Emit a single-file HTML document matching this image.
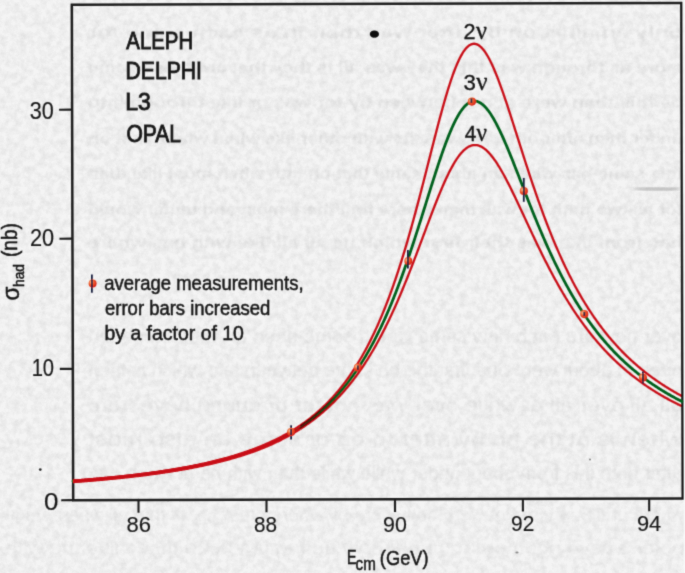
<!DOCTYPE html>
<html><head><meta charset="utf-8">
<style>
html,body{margin:0;padding:0;}
body{width:685px;height:573px;overflow:hidden;background:#eeeeee;}
svg{display:block;}
text{font-family:"Liberation Sans",sans-serif;fill:#161616;}
.tx text{stroke:#161616;stroke-width:0.9px;}
.tx text.lt{stroke-width:0.15px;}
.tx text.md{stroke-width:0.5px;}
.tx text.nu{stroke-width:0.35px;}
</style></head>
<body>
<svg width="685" height="573" viewBox="0 0 685 573">
<defs>
<radialGradient id="dot" cx="0.35" cy="0.35" r="0.7">
<stop offset="0" stop-color="#f6c49a"/>
<stop offset="0.45" stop-color="#ee5a2a"/>
<stop offset="1" stop-color="#d81c16"/>
</radialGradient>
<filter id="paper" x="0" y="0" width="100%" height="100%">
<feTurbulence type="fractalNoise" baseFrequency="0.15" numOctaves="4" seed="3"/>
<feColorMatrix type="matrix" values="0 0 0 0 0.5  0 0 0 0 0.5  0 0 0 0 0.5  0 0 0 -1.1 0.75"/>
</filter>
<linearGradient id="ug" gradientUnits="userSpaceOnUse" x1="265" y1="0" x2="336" y2="0">
<stop offset="0" stop-color="#cc1018" stop-opacity="1"/>
<stop offset="1" stop-color="#cc1018" stop-opacity="0"/>
</linearGradient>
<filter id="soft" x="-5%" y="-5%" width="110%" height="110%"><feGaussianBlur stdDeviation="1.0"/></filter>
<filter id="scan" x="0" y="0" width="685" height="573" filterUnits="userSpaceOnUse"><feConvolveMatrix order="3" kernelMatrix="0.0192 0.1001 0.0192 0.1001 0.5228 0.1001 0.0192 0.1001 0.0192" edgeMode="none"/></filter>
</defs>
<rect x="0" y="0" width="685" height="573" fill="#f4f4f4"/>
<rect x="0" y="0" width="685" height="573" filter="url(#paper)" opacity="0.45"/>
<g fill="#202020" filter="url(#soft)">
<g opacity="0.045" font-family="Liberation Sans" font-weight="bold" font-size="16" transform="scale(-1 1)">
<text x="-683" y="37.5" textLength="595" lengthAdjust="spacingAndGlyphs">only an all is on by after was their in as each same for</text>
<text x="-683" y="72.8" textLength="595" lengthAdjust="spacingAndGlyphs">more as through was this they was all is they that are these same</text>
<text x="-683" y="108.2" textLength="595" lengthAdjust="spacingAndGlyphs">be this than were at not between by for was or like through into</text>
<text x="-683" y="143.5" textLength="595" lengthAdjust="spacingAndGlyphs">under then after other its were its with other like when where first on</text>
<text x="-683" y="179.0" textLength="595" lengthAdjust="spacingAndGlyphs">this same has when an about same that on into when most like then</text>
<text x="-683" y="214.5" textLength="595" lengthAdjust="spacingAndGlyphs">for as two both for was than where first there most and under would</text>
<text x="-683" y="247.5" textLength="595" lengthAdjust="spacingAndGlyphs">has from like was their first which its all all like with has where</text>
</g>
<g opacity="0.045" font-family="Liberation Serif" font-size="20" transform="scale(-1 1)">
<text x="-683" y="343" textLength="595" lengthAdjust="spacingAndGlyphs">over new are each new same would some been an with it an been</text>
<text x="-683" y="377" textLength="595" lengthAdjust="spacingAndGlyphs">been of about were one first the be same between into which is then</text>
<text x="-683" y="412" textLength="595" lengthAdjust="spacingAndGlyphs">all all over all at while over was not for or during have from</text>
<text x="-683" y="446" textLength="595" lengthAdjust="spacingAndGlyphs">when is at the an by after to on or some an also most</text>
<text x="-683" y="480" textLength="595" lengthAdjust="spacingAndGlyphs">after both this from about under while while than with be at when one</text>
</g>
<g opacity="0.03" font-family="Liberation Serif" font-size="19" transform="scale(-1 1)">
<text x="-685" y="521" textLength="680" lengthAdjust="spacingAndGlyphs">where under where not were both were by where other be as that all where have</text>
<text x="-685" y="554" textLength="680" lengthAdjust="spacingAndGlyphs">of for was in not more to under only during but been these like the with</text>
</g>
</g>
<g filter="url(#scan)">
<rect x="683.6" y="0" width="1.4" height="573" fill="#f8f8f8"/>
<ellipse cx="657" cy="189" rx="24" ry="1.6" fill="#777" opacity="0.45" filter="url(#soft)"/>
<!-- frame & ticks, slightly rotated like the scan -->
<g transform="rotate(-0.16 377 251)" stroke="#1c1c1c" fill="none">
<rect x="72.5" y="3.8" width="609.5" height="495.5" stroke-width="2.5"/>
<g stroke-width="2.1">
<line x1="59.5" y1="108.8" x2="72.5" y2="108.8"/>
<line x1="59.5" y1="237.8" x2="72.5" y2="237.8"/>
<line x1="59.5" y1="368.0" x2="72.5" y2="368.0"/>
<line x1="60.5" y1="499.3" x2="72.5" y2="499.3"/>
<line x1="137.8" y1="499.3" x2="137.8" y2="512"/>
<line x1="265.8" y1="499.3" x2="265.8" y2="512"/>
<line x1="394.3" y1="499.3" x2="394.3" y2="512"/>
<line x1="522.2" y1="499.3" x2="522.2" y2="512"/>
<line x1="648.5" y1="499.3" x2="648.5" y2="512"/>
</g>
</g>
<!-- curves -->
<g fill="none" stroke-linejoin="round" stroke-linecap="round">
<path d="M73.0,481.20 L74.0,481.13 L75.0,481.05 L76.0,480.98 L77.0,480.90 L78.0,480.82 L79.0,480.75 L80.0,480.67 L81.0,480.59 L82.0,480.51 L83.0,480.43 L84.0,480.35 L85.0,480.27 L86.0,480.19 L87.0,480.11 L88.0,480.03 L89.0,479.95 L90.0,479.86 L91.0,479.78 L92.0,479.70 L93.0,479.61 L94.0,479.53 L95.0,479.44 L96.0,479.35 L97.0,479.27 L98.0,479.18 L99.0,479.09 L100.0,479.00 L101.0,478.91 L102.0,478.82 L103.0,478.73 L104.0,478.63 L105.0,478.54 L106.0,478.45 L107.0,478.35 L108.0,478.26 L109.0,478.16 L110.0,478.07 L111.0,477.97 L112.0,477.87 L113.0,477.77 L114.0,477.67 L115.0,477.57 L116.0,477.47 L117.0,477.37 L118.0,477.27 L119.0,477.17 L120.0,477.06 L121.0,476.96 L122.0,476.85 L123.0,476.74 L124.0,476.64 L125.0,476.53 L126.0,476.42 L127.0,476.31 L128.0,476.20 L129.0,476.09 L130.0,475.97 L131.0,475.86 L132.0,475.75 L133.0,475.63 L134.0,475.51 L135.0,475.40 L136.0,475.28 L137.0,475.16 L138.0,475.04 L139.0,474.92 L140.0,474.80 L141.0,474.67 L142.0,474.55 L143.0,474.42 L144.0,474.30 L145.0,474.17 L146.0,474.04 L147.0,473.91 L148.0,473.78 L149.0,473.65 L150.0,473.52 L151.0,473.39 L152.0,473.25 L153.0,473.11 L154.0,472.98 L155.0,472.84 L156.0,472.70 L157.0,472.56 L158.0,472.42 L159.0,472.27 L160.0,472.13 L161.0,471.98 L162.0,471.84 L163.0,471.69 L164.0,471.54 L165.0,471.39 L166.0,471.24 L167.0,471.08 L168.0,470.93 L169.0,470.77 L170.0,470.61 L171.0,470.45 L172.0,470.29 L173.0,470.13 L174.0,469.97 L175.0,469.80 L176.0,469.64 L177.0,469.47 L178.0,469.30 L179.0,469.13 L180.0,468.96 L181.0,468.78 L182.0,468.61 L183.0,468.43 L184.0,468.25 L185.0,468.07 L186.0,467.89 L187.0,467.70 L188.0,467.52 L189.0,467.33 L190.0,467.14 L191.0,466.95 L192.0,466.76 L193.0,466.56 L194.0,466.36 L195.0,466.17 L196.0,465.97 L197.0,465.76 L198.0,465.56 L199.0,465.35 L200.0,465.14 L201.0,464.93 L202.0,464.72 L203.0,464.51 L204.0,464.29 L205.0,464.07 L206.0,463.85 L207.0,463.63 L208.0,463.40 L209.0,463.17 L210.0,462.94 L211.0,462.71 L212.0,462.48 L213.0,462.24 L214.0,462.00 L215.0,461.76 L216.0,461.51 L217.0,461.27 L218.0,461.02 L219.0,460.77 L220.0,460.51 L221.0,460.25 L222.0,459.99 L223.0,459.73 L224.0,459.47 L225.0,459.20 L226.0,458.93 L227.0,458.65 L228.0,458.38 L229.0,458.10 L230.0,457.81 L231.0,457.53 L232.0,457.24 L233.0,456.95 L234.0,456.65 L235.0,456.35 L236.0,456.05 L237.0,455.75 L238.0,455.44 L239.0,455.13 L240.0,454.81 L241.0,454.49 L242.0,454.17 L243.0,453.85 L244.0,453.52 L245.0,453.18 L246.0,452.85 L247.0,452.51 L248.0,452.16 L249.0,451.82 L250.0,451.46 L251.0,451.11 L252.0,450.75 L253.0,450.38 L254.0,450.01 L255.0,449.64 L256.0,449.26 L257.0,448.88 L258.0,448.49 L259.0,448.10 L260.0,447.71 L261.0,447.31 L262.0,446.90 L263.0,446.49 L264.0,446.08 L265.0,445.66 L266.0,445.24 L267.0,444.81 L268.0,444.37 L269.0,443.93 L270.0,443.49 L271.0,443.04 L272.0,442.58 L273.0,442.12 L274.0,441.65 L275.0,441.18 L276.0,440.70 L277.0,440.21 L278.0,439.72 L279.0,439.22 L280.0,438.72 L281.0,438.21 L282.0,437.69 L283.0,437.17 L284.0,436.64 L285.0,436.10 L286.0,435.56 L287.0,435.01 L288.0,434.45 L289.0,433.89 L290.0,433.32 L291.0,432.74 L292.0,432.15 L293.0,431.56 L294.0,430.95 L295.0,430.34 L296.0,429.73 L297.0,429.10 L298.0,428.46 L299.0,427.82 L300.0,427.17 L301.0,426.51 L302.0,425.84 L303.0,425.16 L304.0,424.47 L305.0,423.77 L306.0,423.07 L307.0,422.35 L308.0,421.63 L309.0,420.89 L310.0,420.14 L311.0,419.39 L312.0,418.62 L313.0,417.84 L314.0,417.05 L315.0,416.25 L316.0,415.44 L317.0,414.62 L318.0,413.79 L319.0,412.94 L320.0,412.08 L321.0,411.21 L322.0,410.33 L323.0,409.44 L324.0,408.53 L325.0,407.61 L326.0,406.68 L327.0,405.73 L328.0,404.77 L329.0,403.79 L330.0,402.80 L331.0,401.80 L332.0,400.78 L333.0,399.75 L334.0,398.70 L335.0,397.64 L336.0,396.56 L337.0,395.46 L338.0,394.35 L339.0,393.22 L340.0,392.08 L341.0,390.92 L342.0,389.74 L343.0,388.54 L344.0,387.33 L345.0,386.10 L346.0,384.85 L347.0,383.58 L348.0,382.29 L349.0,380.98 L350.0,379.66 L351.0,378.31 L352.0,376.94 L353.0,375.56 L354.0,374.15 L355.0,372.72 L356.0,371.27 L357.0,369.79 L358.0,368.30 L359.0,366.78 L360.0,365.24 L361.0,363.68 L362.0,362.09 L363.0,360.48 L364.0,358.84 L365.0,357.18 L366.0,355.50 L367.0,353.79 L368.0,352.05 L369.0,350.29 L370.0,348.50 L371.0,346.69 L372.0,344.85 L373.0,342.98 L374.0,341.09 L375.0,339.16 L376.0,337.21 L377.0,335.23 L378.0,333.23 L379.0,331.19 L380.0,329.12 L381.0,327.03 L382.0,324.90 L383.0,322.75 L384.0,320.57 L385.0,318.35 L386.0,316.10 L387.0,313.83 L388.0,311.52 L389.0,309.18 L390.0,306.82 L391.0,304.42 L392.0,301.98 L393.0,299.52 L394.0,297.03 L395.0,294.50 L396.0,291.95 L397.0,289.36 L398.0,286.75 L399.0,284.10 L400.0,281.42 L401.0,278.71 L402.0,275.97 L403.0,273.20 L404.0,270.41 L405.0,267.58 L406.0,264.73 L407.0,261.85 L408.0,258.94 L409.0,256.00 L410.0,253.04 L411.0,250.06 L412.0,247.05 L413.0,244.02 L414.0,240.97 L415.0,237.89 L416.0,234.80 L417.0,231.69 L418.0,228.56 L419.0,225.42 L420.0,222.27 L421.0,219.10 L422.0,215.92 L423.0,212.73 L424.0,209.54 L425.0,206.34 L426.0,203.14 L427.0,199.94 L428.0,196.74 L429.0,193.54 L430.0,190.36 L431.0,187.18 L432.0,184.01 L433.0,180.86 L434.0,177.72 L435.0,174.61 L436.0,171.52 L437.0,168.45 L438.0,165.42 L439.0,162.41 L440.0,159.45 L441.0,156.52 L442.0,153.63 L443.0,150.79 L444.0,148.00 L445.0,145.25 L446.0,142.57 L447.0,139.94 L448.0,137.37 L449.0,134.87 L450.0,132.44 L451.0,130.08 L452.0,127.79 L453.0,125.58 L454.0,123.45 L455.0,121.41 L456.0,119.45 L457.0,117.57 L458.0,115.79 L459.0,114.11 L460.0,112.52 L461.0,111.02 L462.0,109.63 L463.0,108.34 L464.0,107.15 L465.0,106.06 L466.0,105.08 L467.0,104.21 L468.0,103.45 L469.0,102.79 L470.0,102.24 L471.0,101.80 L472.0,101.47 L473.0,101.25 L474.0,101.14 L475.0,101.13 L476.0,101.23 L477.0,101.44 L478.0,101.75 L479.0,102.17 L480.0,102.69 L481.0,103.30 L482.0,104.02 L483.0,104.84 L484.0,105.75 L485.0,106.75 L486.0,107.84 L487.0,109.02 L488.0,110.29 L489.0,111.64 L490.0,113.06 L491.0,114.57 L492.0,116.15 L493.0,117.81 L494.0,119.53 L495.0,121.32 L496.0,123.17 L497.0,125.08 L498.0,127.06 L499.0,129.08 L500.0,131.16 L501.0,133.28 L502.0,135.45 L503.0,137.67 L504.0,139.92 L505.0,142.22 L506.0,144.54 L507.0,146.90 L508.0,149.29 L509.0,151.71 L510.0,154.15 L511.0,156.61 L512.0,159.09 L513.0,161.59 L514.0,164.11 L515.0,166.64 L516.0,169.18 L517.0,171.73 L518.0,174.29 L519.0,176.85 L520.0,179.42 L521.0,181.98 L522.0,184.55 L523.0,187.12 L524.0,189.69 L525.0,192.25 L526.0,194.81 L527.0,197.36 L528.0,199.90 L529.0,202.43 L530.0,204.96 L531.0,207.47 L532.0,209.97 L533.0,212.46 L534.0,214.93 L535.0,217.40 L536.0,219.84 L537.0,222.27 L538.0,224.69 L539.0,227.08 L540.0,229.46 L541.0,231.83 L542.0,234.17 L543.0,236.49 L544.0,238.80 L545.0,241.09 L546.0,243.35 L547.0,245.60 L548.0,247.83 L549.0,250.03 L550.0,252.22 L551.0,254.38 L552.0,256.52 L553.0,258.65 L554.0,260.75 L555.0,262.83 L556.0,264.88 L557.0,266.92 L558.0,268.94 L559.0,270.93 L560.0,272.91 L561.0,274.86 L562.0,276.79 L563.0,278.70 L564.0,280.59 L565.0,282.45 L566.0,284.30 L567.0,286.13 L568.0,287.93 L569.0,289.72 L570.0,291.48 L571.0,293.23 L572.0,294.95 L573.0,296.65 L574.0,298.34 L575.0,300.00 L576.0,301.65 L577.0,303.28 L578.0,304.88 L579.0,306.47 L580.0,308.04 L581.0,309.59 L582.0,311.13 L583.0,312.64 L584.0,314.14 L585.0,315.62 L586.0,317.08 L587.0,318.52 L588.0,319.95 L589.0,321.36 L590.0,322.75 L591.0,324.13 L592.0,325.49 L593.0,326.83 L594.0,328.16 L595.0,329.47 L596.0,330.77 L597.0,332.05 L598.0,333.32 L599.0,334.57 L600.0,335.81 L601.0,337.03 L602.0,338.24 L603.0,339.43 L604.0,340.61 L605.0,341.77 L606.0,342.92 L607.0,344.06 L608.0,345.19 L609.0,346.30 L610.0,347.40 L611.0,348.48 L612.0,349.56 L613.0,350.62 L614.0,351.66 L615.0,352.70 L616.0,353.73 L617.0,354.74 L618.0,355.74 L619.0,356.73 L620.0,357.71 L621.0,358.67 L622.0,359.63 L623.0,360.57 L624.0,361.51 L625.0,362.43 L626.0,363.34 L627.0,364.25 L628.0,365.14 L629.0,366.02 L630.0,366.90 L631.0,367.76 L632.0,368.61 L633.0,369.46 L634.0,370.29 L635.0,371.12 L636.0,371.93 L637.0,372.74 L638.0,373.54 L639.0,374.33 L640.0,375.11 L641.0,375.89 L642.0,376.65 L643.0,377.41 L644.0,378.15 L645.0,378.90 L646.0,379.63 L647.0,380.35 L648.0,381.07 L649.0,381.78 L650.0,382.48 L651.0,383.17 L652.0,383.86 L653.0,384.54 L654.0,385.21 L655.0,385.88 L656.0,386.54 L657.0,387.19 L658.0,387.84 L659.0,388.48 L660.0,389.11 L661.0,389.73 L662.0,390.35 L663.0,390.97 L664.0,391.57 L665.0,392.18 L666.0,392.77 L667.0,393.36 L668.0,393.94 L669.0,394.52 L670.0,395.09 L671.0,395.66 L672.0,396.22 L673.0,396.77 L674.0,397.32 L675.0,397.87 L676.0,398.40 L677.0,398.94 L678.0,399.47 L679.0,399.99 L680.0,400.51 L681.0,401.02 L682.0,401.53" stroke="#00601c" stroke-width="2.8"/>
<path d="M73.0,481.20 L74.0,481.13 L75.0,481.05 L76.0,480.98 L77.0,480.90 L78.0,480.82 L79.0,480.75 L80.0,480.67 L81.0,480.59 L82.0,480.51 L83.0,480.43 L84.0,480.35 L85.0,480.27 L86.0,480.19 L87.0,480.11 L88.0,480.03 L89.0,479.95 L90.0,479.86 L91.0,479.78 L92.0,479.70 L93.0,479.61 L94.0,479.53 L95.0,479.44 L96.0,479.35 L97.0,479.27 L98.0,479.18 L99.0,479.09 L100.0,479.00 L101.0,478.91 L102.0,478.82 L103.0,478.73 L104.0,478.63 L105.0,478.54 L106.0,478.45 L107.0,478.35 L108.0,478.26 L109.0,478.16 L110.0,478.07 L111.0,477.97 L112.0,477.87 L113.0,477.77 L114.0,477.67 L115.0,477.57 L116.0,477.47 L117.0,477.37 L118.0,477.27 L119.0,477.17 L120.0,477.06 L121.0,476.96 L122.0,476.85 L123.0,476.74 L124.0,476.64 L125.0,476.53 L126.0,476.42 L127.0,476.31 L128.0,476.20 L129.0,476.09 L130.0,475.97 L131.0,475.86 L132.0,475.75 L133.0,475.63 L134.0,475.51 L135.0,475.40 L136.0,475.28 L137.0,475.16 L138.0,475.04 L139.0,474.92 L140.0,474.80 L141.0,474.67 L142.0,474.55 L143.0,474.42 L144.0,474.30 L145.0,474.17 L146.0,474.04 L147.0,473.91 L148.0,473.78 L149.0,473.65 L150.0,473.52 L151.0,473.39 L152.0,473.25 L153.0,473.11 L154.0,472.98 L155.0,472.84 L156.0,472.70 L157.0,472.56 L158.0,472.42 L159.0,472.27 L160.0,472.13 L161.0,471.98 L162.0,471.84 L163.0,471.69 L164.0,471.54 L165.0,471.39 L166.0,471.24 L167.0,471.08 L168.0,470.93 L169.0,470.77 L170.0,470.61 L171.0,470.45 L172.0,470.29 L173.0,470.13 L174.0,469.97 L175.0,469.80 L176.0,469.64 L177.0,469.47 L178.0,469.30 L179.0,469.13 L180.0,468.96 L181.0,468.78 L182.0,468.61 L183.0,468.43 L184.0,468.25 L185.0,468.07 L186.0,467.89 L187.0,467.70 L188.0,467.52 L189.0,467.33 L190.0,467.14 L191.0,466.95 L192.0,466.76 L193.0,466.56 L194.0,466.36 L195.0,466.17 L196.0,465.97 L197.0,465.76 L198.0,465.56 L199.0,465.35 L200.0,465.14 L201.0,464.93 L202.0,464.72 L203.0,464.51 L204.0,464.29 L205.0,464.07 L206.0,463.85 L207.0,463.63 L208.0,463.40 L209.0,463.17 L210.0,462.94 L211.0,462.71 L212.0,462.48 L213.0,462.24 L214.0,462.00 L215.0,461.76 L216.0,461.51 L217.0,461.27 L218.0,461.02 L219.0,460.77 L220.0,460.51 L221.0,460.25 L222.0,459.99 L223.0,459.73 L224.0,459.47 L225.0,459.20 L226.0,458.93 L227.0,458.65 L228.0,458.38 L229.0,458.10 L230.0,457.81 L231.0,457.53 L232.0,457.24 L233.0,456.95 L234.0,456.65 L235.0,456.35 L236.0,456.05 L237.0,455.75 L238.0,455.44 L239.0,455.13 L240.0,454.81 L241.0,454.49 L242.0,454.17 L243.0,453.85 L244.0,453.52 L245.0,453.18 L246.0,452.85 L247.0,452.51 L248.0,452.16 L249.0,451.82 L250.0,451.46 L251.0,451.11 L252.0,450.75 L253.0,450.38 L254.0,450.01 L255.0,449.64 L256.0,449.26 L257.0,448.88 L258.0,448.49 L259.0,448.10 L260.0,447.71 L261.0,447.31 L262.0,446.90 L263.0,446.49 L264.0,446.08 L265.0,445.66 L266.0,445.24 L267.0,444.81 L268.0,444.37 L269.0,443.93 L270.0,443.49 L271.0,443.04 L272.0,442.58 L273.0,442.12 L274.0,441.65 L275.0,441.18 L276.0,440.70 L277.0,440.21 L278.0,439.72 L279.0,439.22 L280.0,438.72 L281.0,438.21 L282.0,437.69 L283.0,437.17 L284.0,436.64 L285.0,436.10 L286.0,435.56 L287.0,435.01 L288.0,434.45 L289.0,433.89 L290.0,433.32 L291.0,432.74 L292.0,432.15 L293.0,431.56 L294.0,430.95 L295.0,430.34 L296.0,429.73 L297.0,429.10 L298.0,428.46 L299.0,427.82 L300.0,427.17 L301.0,426.51 L302.0,425.84 L303.0,425.16 L304.0,424.47 L305.0,423.77 L306.0,423.07 L307.0,422.35 L308.0,421.63 L309.0,420.89 L310.0,420.14 L311.0,419.39 L312.0,418.62 L313.0,417.84 L314.0,417.05 L315.0,416.25 L316.0,415.44 L317.0,414.62 L318.0,413.79 L319.0,412.94 L320.0,412.08 L321.0,411.21 L322.0,410.33 L323.0,409.44 L324.0,408.53 L325.0,407.61 L326.0,406.68 L327.0,405.73 L328.0,404.77 L329.0,403.79 L330.0,402.80 L331.0,401.80 L332.0,400.78 L333.0,399.75 L334.0,398.70 L335.0,397.64 L336.0,396.56" stroke="url(#ug)" stroke-width="3.4" stroke-linecap="butt"/>
<path d="M73.0,482.09 L74.0,482.02 L75.0,481.95 L76.0,481.87 L77.0,481.80 L78.0,481.72 L79.0,481.64 L80.0,481.57 L81.0,481.49 L82.0,481.41 L83.0,481.33 L84.0,481.25 L85.0,481.17 L86.0,481.09 L87.0,481.01 L88.0,480.93 L89.0,480.85 L90.0,480.77 L91.0,480.68 L92.0,480.60 L93.0,480.52 L94.0,480.43 L95.0,480.35 L96.0,480.26 L97.0,480.17 L98.0,480.08 L99.0,480.00 L100.0,479.91 L101.0,479.82 L102.0,479.73 L103.0,479.64 L104.0,479.55 L105.0,479.45 L106.0,479.36 L107.0,479.27 L108.0,479.17 L109.0,479.08 L110.0,478.98 L111.0,478.89 L112.0,478.79 L113.0,478.69 L114.0,478.59 L115.0,478.49 L116.0,478.39 L117.0,478.29 L118.0,478.19 L119.0,478.09 L120.0,477.99 L121.0,477.88 L122.0,477.78 L123.0,477.67 L124.0,477.57 L125.0,477.46 L126.0,477.35 L127.0,477.24 L128.0,477.13 L129.0,477.02 L130.0,476.91 L131.0,476.80 L132.0,476.69 L133.0,476.57 L134.0,476.46 L135.0,476.34 L136.0,476.22 L137.0,476.11 L138.0,475.99 L139.0,475.87 L140.0,475.75 L141.0,475.62 L142.0,475.50 L143.0,475.38 L144.0,475.25 L145.0,475.13 L146.0,475.00 L147.0,474.87 L148.0,474.74 L149.0,474.61 L150.0,474.48 L151.0,474.35 L152.0,474.22 L153.0,474.08 L154.0,473.95 L155.0,473.81 L156.0,473.67 L157.0,473.53 L158.0,473.39 L159.0,473.25 L160.0,473.11 L161.0,472.97 L162.0,472.82 L163.0,472.67 L164.0,472.53 L165.0,472.38 L166.0,472.23 L167.0,472.08 L168.0,471.92 L169.0,471.77 L170.0,471.61 L171.0,471.46 L172.0,471.30 L173.0,471.14 L174.0,470.98 L175.0,470.82 L176.0,470.65 L177.0,470.49 L178.0,470.32 L179.0,470.15 L180.0,469.98 L181.0,469.81 L182.0,469.64 L183.0,469.46 L184.0,469.28 L185.0,469.11 L186.0,468.93 L187.0,468.75 L188.0,468.56 L189.0,468.38 L190.0,468.19 L191.0,468.00 L192.0,467.81 L193.0,467.62 L194.0,467.43 L195.0,467.23 L196.0,467.04 L197.0,466.84 L198.0,466.64 L199.0,466.43 L200.0,466.23 L201.0,466.02 L202.0,465.81 L203.0,465.60 L204.0,465.39 L205.0,465.18 L206.0,464.96 L207.0,464.74 L208.0,464.52 L209.0,464.29 L210.0,464.07 L211.0,463.84 L212.0,463.61 L213.0,463.38 L214.0,463.14 L215.0,462.91 L216.0,462.67 L217.0,462.42 L218.0,462.18 L219.0,461.93 L220.0,461.68 L221.0,461.43 L222.0,461.18 L223.0,460.92 L224.0,460.66 L225.0,460.40 L226.0,460.13 L227.0,459.86 L228.0,459.59 L229.0,459.32 L230.0,459.04 L231.0,458.76 L232.0,458.48 L233.0,458.20 L234.0,457.91 L235.0,457.62 L236.0,457.32 L237.0,457.02 L238.0,456.72 L239.0,456.42 L240.0,456.11 L241.0,455.80 L242.0,455.49 L243.0,455.17 L244.0,454.85 L245.0,454.52 L246.0,454.19 L247.0,453.86 L248.0,453.53 L249.0,453.19 L250.0,452.84 L251.0,452.50 L252.0,452.14 L253.0,451.79 L254.0,451.43 L255.0,451.06 L256.0,450.70 L257.0,450.32 L258.0,449.94 L259.0,449.56 L260.0,449.18 L261.0,448.78 L262.0,448.39 L263.0,447.99 L264.0,447.58 L265.0,447.17 L266.0,446.75 L267.0,446.33 L268.0,445.90 L269.0,445.47 L270.0,445.03 L271.0,444.59 L272.0,444.14 L273.0,443.69 L274.0,443.23 L275.0,442.77 L276.0,442.30 L277.0,441.82 L278.0,441.34 L279.0,440.85 L280.0,440.36 L281.0,439.86 L282.0,439.35 L283.0,438.84 L284.0,438.32 L285.0,437.79 L286.0,437.26 L287.0,436.72 L288.0,436.18 L289.0,435.62 L290.0,435.06 L291.0,434.50 L292.0,433.92 L293.0,433.34 L294.0,432.76 L295.0,432.16 L296.0,431.56 L297.0,430.95 L298.0,430.33 L299.0,429.70 L300.0,429.07" stroke="#c80c16" stroke-width="2.3" stroke-linecap="butt"/>
<path d="M300.0,429.07 L301.0,428.43 L302.0,427.78 L303.0,427.12 L304.0,426.45 L305.0,425.78 L306.0,425.09 L307.0,424.40 L308.0,423.70 L309.0,422.99 L310.0,422.27 L311.0,421.54 L312.0,420.80 L313.0,420.05 L314.0,419.29 L315.0,418.52 L316.0,417.74 L317.0,416.96 L318.0,416.16 L319.0,415.35 L320.0,414.53 L321.0,413.70 L322.0,412.85 L323.0,412.00 L324.0,411.14 L325.0,410.26 L326.0,409.37 L327.0,408.47 L328.0,407.56 L329.0,406.63 L330.0,405.70 L331.0,404.75 L332.0,403.79 L333.0,402.81 L334.0,401.82 L335.0,400.82 L336.0,399.80 L337.0,398.77 L338.0,397.73 L339.0,396.67 L340.0,395.60 L341.0,394.51 L342.0,393.41 L343.0,392.29 L344.0,391.15 L345.0,390.00 L346.0,388.83 L347.0,387.65 L348.0,386.45 L349.0,385.23 L350.0,384.00 L351.0,382.75 L352.0,381.48 L353.0,380.19 L354.0,378.88 L355.0,377.56 L356.0,376.22 L357.0,374.86 L358.0,373.48 L359.0,372.08 L360.0,370.66 L361.0,369.22 L362.0,367.76 L363.0,366.28 L364.0,364.77 L365.0,363.25 L366.0,361.71 L367.0,360.15 L368.0,358.56 L369.0,356.95 L370.0,355.32 L371.0,353.67 L372.0,352.00 L373.0,350.30 L374.0,348.58 L375.0,346.84 L376.0,345.07 L377.0,343.28 L378.0,341.47 L379.0,339.63 L380.0,337.77 L381.0,335.89 L382.0,333.98 L383.0,332.04 L384.0,330.09 L385.0,328.11 L386.0,326.10 L387.0,324.07 L388.0,322.01 L389.0,319.93 L390.0,317.83 L391.0,315.70 L392.0,313.55 L393.0,311.37 L394.0,309.17 L395.0,306.95 L396.0,304.70 L397.0,302.42 L398.0,300.13 L399.0,297.81 L400.0,295.47 L401.0,293.10 L402.0,290.71 L403.0,288.31 L404.0,285.88 L405.0,283.43 L406.0,280.96 L407.0,278.47 L408.0,275.96 L409.0,273.43 L410.0,270.89 L411.0,268.32 L412.0,265.75 L413.0,263.16 L414.0,260.55 L415.0,257.93 L416.0,255.30 L417.0,252.66 L418.0,250.01 L419.0,247.35 L420.0,244.69 L421.0,242.02 L422.0,239.34 L423.0,236.67 L424.0,233.99 L425.0,231.31 L426.0,228.64 L427.0,225.97 L428.0,223.31 L429.0,220.65 L430.0,218.01 L431.0,215.37 L432.0,212.76 L433.0,210.15 L434.0,207.57 L435.0,205.01 L436.0,202.46 L437.0,199.95 L438.0,197.46 L439.0,195.00 L440.0,192.58 L441.0,190.19 L442.0,187.84 L443.0,185.52 L444.0,183.25 L445.0,181.02 L446.0,178.84 L447.0,176.71 L448.0,174.63 L449.0,172.61 L450.0,170.64 L451.0,168.73 L452.0,166.88 L453.0,165.09 L454.0,163.37 L455.0,161.72 L456.0,160.14 L457.0,158.62 L458.0,157.18 L459.0,155.82 L460.0,154.53 L461.0,153.32 L462.0,152.18 L463.0,151.13 L464.0,150.16 L465.0,149.27 L466.0,148.46 L467.0,147.74 L468.0,147.11 L469.0,146.55 L470.0,146.09 L471.0,145.71 L472.0,145.41 L473.0,145.20 L474.0,145.08 L475.0,145.04 L476.0,145.08 L477.0,145.21 L478.0,145.42 L479.0,145.71 L480.0,146.09 L481.0,146.54 L482.0,147.08 L483.0,147.69 L484.0,148.38 L485.0,149.14 L486.0,149.97 L487.0,150.88 L488.0,151.86 L489.0,152.90 L490.0,154.01 L491.0,155.18 L492.0,156.42 L493.0,157.71 L494.0,159.07 L495.0,160.47 L496.0,161.94 L497.0,163.45 L498.0,165.01 L499.0,166.62 L500.0,168.28 L501.0,169.97 L502.0,171.71 L503.0,173.49 L504.0,175.30 L505.0,177.15 L506.0,179.03 L507.0,180.94 L508.0,182.88 L509.0,184.84 L510.0,186.83 L511.0,188.84 L512.0,190.87 L513.0,192.92 L514.0,194.99 L515.0,197.07 L516.0,199.16 L517.0,201.27 L518.0,203.39 L519.0,205.52 L520.0,207.65 L521.0,209.79 L522.0,211.94 L523.0,214.08 L524.0,216.23 L525.0,218.38 L526.0,220.54 L527.0,222.68 L528.0,224.83 L529.0,226.97 L530.0,229.11 L531.0,231.25 L532.0,233.37 L533.0,235.49 L534.0,237.61 L535.0,239.71 L536.0,241.81 L537.0,243.89 L538.0,245.97 L539.0,248.03 L540.0,250.08 L541.0,252.12 L542.0,254.15 L543.0,256.16 L544.0,258.16 L545.0,260.15 L546.0,262.12 L547.0,264.08 L548.0,266.02 L549.0,267.95 L550.0,269.86 L551.0,271.75 L552.0,273.63 L553.0,275.50 L554.0,277.35 L555.0,279.18 L556.0,281.00 L557.0,282.80 L558.0,284.58 L559.0,286.34 L560.0,288.09 L561.0,289.83 L562.0,291.54 L563.0,293.24 L564.0,294.92 L565.0,296.59 L566.0,298.24 L567.0,299.87 L568.0,301.49 L569.0,303.08 L570.0,304.67 L571.0,306.23 L572.0,307.78 L573.0,309.31 L574.0,310.83 L575.0,312.33 L576.0,313.82 L577.0,315.28 L578.0,316.74 L579.0,318.17 L580.0,319.59 L581.0,321.00 L582.0,322.39 L583.0,323.76 L584.0,325.12 L585.0,326.47 L586.0,327.80 L587.0,329.11 L588.0,330.41 L589.0,331.70 L590.0,332.97 L591.0,334.23 L592.0,335.47 L593.0,336.70 L594.0,337.92 L595.0,339.12 L596.0,340.31 L597.0,341.48 L598.0,342.65 L599.0,343.80 L600.0,344.93 L601.0,346.06 L602.0,347.17 L603.0,348.27 L604.0,349.35 L605.0,350.43 L606.0,351.49 L607.0,352.54 L608.0,353.58 L609.0,354.60 L610.0,355.62 L611.0,356.62 L612.0,357.62 L613.0,358.60 L614.0,359.57 L615.0,360.53 L616.0,361.48 L617.0,362.42 L618.0,363.35 L619.0,364.27 L620.0,365.18 L621.0,366.08 L622.0,366.96 L623.0,367.84 L624.0,368.71 L625.0,369.57 L626.0,370.42 L627.0,371.27 L628.0,372.10 L629.0,372.92 L630.0,373.74 L631.0,374.54 L632.0,375.34 L633.0,376.13 L634.0,376.91 L635.0,377.68 L636.0,378.44 L637.0,379.20 L638.0,379.95 L639.0,380.69 L640.0,381.42 L641.0,382.14 L642.0,382.86 L643.0,383.57 L644.0,384.27 L645.0,384.97 L646.0,385.65 L647.0,386.33 L648.0,387.01 L649.0,387.67 L650.0,388.33 L651.0,388.98 L652.0,389.63 L653.0,390.27 L654.0,390.90 L655.0,391.53 L656.0,392.15 L657.0,392.76 L658.0,393.37 L659.0,393.97 L660.0,394.57 L661.0,395.16 L662.0,395.74 L663.0,396.32 L664.0,396.89 L665.0,397.46 L666.0,398.02 L667.0,398.58 L668.0,399.13 L669.0,399.67 L670.0,400.21 L671.0,400.75 L672.0,401.28 L673.0,401.80 L674.0,402.32 L675.0,402.83 L676.0,403.34 L677.0,403.85 L678.0,404.35 L679.0,404.84 L680.0,405.33 L681.0,405.82 L682.0,406.30" stroke="#c80c16" stroke-width="2.3" stroke-linecap="butt" style="mix-blend-mode:multiply"/>
<path d="M73.0,480.65 L74.0,480.58 L75.0,480.50 L76.0,480.43 L77.0,480.35 L78.0,480.27 L79.0,480.20 L80.0,480.12 L81.0,480.04 L82.0,479.96 L83.0,479.88 L84.0,479.80 L85.0,479.72 L86.0,479.64 L87.0,479.56 L88.0,479.48 L89.0,479.39 L90.0,479.31 L91.0,479.22 L92.0,479.14 L93.0,479.05 L94.0,478.97 L95.0,478.88 L96.0,478.79 L97.0,478.71 L98.0,478.62 L99.0,478.53 L100.0,478.44 L101.0,478.35 L102.0,478.25 L103.0,478.16 L104.0,478.07 L105.0,477.98 L106.0,477.88 L107.0,477.79 L108.0,477.69 L109.0,477.59 L110.0,477.50 L111.0,477.40 L112.0,477.30 L113.0,477.20 L114.0,477.10 L115.0,477.00 L116.0,476.90 L117.0,476.80 L118.0,476.69 L119.0,476.59 L120.0,476.48 L121.0,476.38 L122.0,476.27 L123.0,476.16 L124.0,476.06 L125.0,475.95 L126.0,475.84 L127.0,475.73 L128.0,475.61 L129.0,475.50 L130.0,475.39 L131.0,475.27 L132.0,475.16 L133.0,475.04 L134.0,474.92 L135.0,474.81 L136.0,474.69 L137.0,474.57 L138.0,474.44 L139.0,474.32 L140.0,474.20 L141.0,474.07 L142.0,473.95 L143.0,473.82 L144.0,473.70 L145.0,473.57 L146.0,473.44 L147.0,473.31 L148.0,473.17 L149.0,473.04 L150.0,472.91 L151.0,472.77 L152.0,472.64 L153.0,472.50 L154.0,472.36 L155.0,472.22 L156.0,472.08 L157.0,471.94 L158.0,471.79 L159.0,471.65 L160.0,471.50 L161.0,471.35 L162.0,471.21 L163.0,471.06 L164.0,470.90 L165.0,470.75 L166.0,470.60 L167.0,470.44 L168.0,470.29 L169.0,470.13 L170.0,469.97 L171.0,469.81 L172.0,469.64 L173.0,469.48 L174.0,469.31 L175.0,469.15 L176.0,468.98 L177.0,468.81 L178.0,468.64 L179.0,468.46 L180.0,468.29 L181.0,468.11 L182.0,467.93 L183.0,467.75 L184.0,467.57 L185.0,467.39 L186.0,467.20 L187.0,467.02 L188.0,466.83 L189.0,466.64 L190.0,466.45 L191.0,466.25 L192.0,466.06 L193.0,465.86 L194.0,465.66 L195.0,465.46 L196.0,465.25 L197.0,465.05 L198.0,464.84 L199.0,464.63 L200.0,464.42 L201.0,464.20 L202.0,463.99 L203.0,463.77 L204.0,463.55 L205.0,463.33 L206.0,463.10 L207.0,462.88 L208.0,462.65 L209.0,462.41 L210.0,462.18 L211.0,461.94 L212.0,461.71 L213.0,461.46 L214.0,461.22 L215.0,460.97 L216.0,460.72 L217.0,460.47 L218.0,460.22 L219.0,459.96 L220.0,459.70 L221.0,459.44 L222.0,459.18 L223.0,458.91 L224.0,458.64 L225.0,458.36 L226.0,458.09 L227.0,457.81 L228.0,457.52 L229.0,457.24 L230.0,456.95 L231.0,456.66 L232.0,456.36 L233.0,456.06 L234.0,455.76 L235.0,455.46 L236.0,455.15 L237.0,454.84 L238.0,454.52 L239.0,454.20 L240.0,453.88 L241.0,453.56 L242.0,453.23 L243.0,452.89 L244.0,452.56 L245.0,452.21 L246.0,451.87 L247.0,451.52 L248.0,451.17 L249.0,450.81 L250.0,450.45 L251.0,450.08 L252.0,449.71 L253.0,449.34 L254.0,448.96 L255.0,448.58 L256.0,448.20 L257.0,447.81 L258.0,447.41 L259.0,447.01 L260.0,446.61 L261.0,446.20 L262.0,445.79 L263.0,445.37 L264.0,444.95 L265.0,444.52 L266.0,444.09 L267.0,443.65 L268.0,443.20 L269.0,442.76 L270.0,442.30 L271.0,441.84 L272.0,441.38 L273.0,440.91 L274.0,440.43 L275.0,439.95 L276.0,439.46 L277.0,438.97 L278.0,438.46 L279.0,437.96 L280.0,437.44 L281.0,436.92 L282.0,436.40 L283.0,435.86 L284.0,435.32 L285.0,434.77 L286.0,434.22 L287.0,433.66 L288.0,433.09 L289.0,432.51 L290.0,431.92 L291.0,431.33 L292.0,430.73 L293.0,430.12 L294.0,429.50 L295.0,428.88 L296.0,428.24 L297.0,427.60 L298.0,426.94 L299.0,426.28 L300.0,425.61" stroke="#c80c16" stroke-width="2.3" stroke-linecap="butt"/>
<path d="M300.0,425.61 L301.0,424.93 L302.0,424.24 L303.0,423.54 L304.0,422.83 L305.0,422.11 L306.0,421.38 L307.0,420.63 L308.0,419.88 L309.0,419.12 L310.0,418.34 L311.0,417.56 L312.0,416.76 L313.0,415.95 L314.0,415.13 L315.0,414.30 L316.0,413.45 L317.0,412.59 L318.0,411.72 L319.0,410.83 L320.0,409.94 L321.0,409.02 L322.0,408.10 L323.0,407.16 L324.0,406.20 L325.0,405.23 L326.0,404.25 L327.0,403.25 L328.0,402.24 L329.0,401.21 L330.0,400.16 L331.0,399.10 L332.0,398.02 L333.0,396.92 L334.0,395.81 L335.0,394.68 L336.0,393.53 L337.0,392.36 L338.0,391.18 L339.0,389.97 L340.0,388.75 L341.0,387.51 L342.0,386.24 L343.0,384.96 L344.0,383.66 L345.0,382.34 L346.0,380.99 L347.0,379.63 L348.0,378.24 L349.0,376.83 L350.0,375.40 L351.0,373.94 L352.0,372.47 L353.0,370.96 L354.0,369.44 L355.0,367.89 L356.0,366.31 L357.0,364.71 L358.0,363.08 L359.0,361.43 L360.0,359.75 L361.0,358.04 L362.0,356.31 L363.0,354.55 L364.0,352.76 L365.0,350.94 L366.0,349.09 L367.0,347.21 L368.0,345.30 L369.0,343.36 L370.0,341.38 L371.0,339.38 L372.0,337.34 L373.0,335.27 L374.0,333.17 L375.0,331.03 L376.0,328.86 L377.0,326.66 L378.0,324.42 L379.0,322.14 L380.0,319.83 L381.0,317.48 L382.0,315.09 L383.0,312.67 L384.0,310.21 L385.0,307.71 L386.0,305.17 L387.0,302.60 L388.0,299.98 L389.0,297.33 L390.0,294.63 L391.0,291.89 L392.0,289.12 L393.0,286.30 L394.0,283.44 L395.0,280.55 L396.0,277.61 L397.0,274.63 L398.0,271.60 L399.0,268.54 L400.0,265.43 L401.0,262.29 L402.0,259.10 L403.0,255.87 L404.0,252.60 L405.0,249.30 L406.0,245.95 L407.0,242.56 L408.0,239.13 L409.0,235.67 L410.0,232.16 L411.0,228.62 L412.0,225.05 L413.0,221.44 L414.0,217.79 L415.0,214.12 L416.0,210.41 L417.0,206.67 L418.0,202.90 L419.0,199.11 L420.0,195.29 L421.0,191.45 L422.0,187.58 L423.0,183.70 L424.0,179.80 L425.0,175.89 L426.0,171.97 L427.0,168.03 L428.0,164.09 L429.0,160.15 L430.0,156.20 L431.0,152.26 L432.0,148.33 L433.0,144.41 L434.0,140.50 L435.0,136.60 L436.0,132.73 L437.0,128.89 L438.0,125.07 L439.0,121.29 L440.0,117.55 L441.0,113.85 L442.0,110.19 L443.0,106.59 L444.0,103.05 L445.0,99.56 L446.0,96.15 L447.0,92.80 L448.0,89.53 L449.0,86.33 L450.0,83.23 L451.0,80.21 L452.0,77.28 L453.0,74.46 L454.0,71.73 L455.0,69.11 L456.0,66.61 L457.0,64.21 L458.0,61.94 L459.0,59.79 L460.0,57.76 L461.0,55.86 L462.0,54.09 L463.0,52.46 L464.0,50.96 L465.0,49.60 L466.0,48.38 L467.0,47.30 L468.0,46.36 L469.0,45.57 L470.0,44.92 L471.0,44.41 L472.0,44.05 L473.0,43.83 L474.0,43.76 L475.0,43.82 L476.0,44.03 L477.0,44.38 L478.0,44.87 L479.0,45.49 L480.0,46.24 L481.0,47.13 L482.0,48.14 L483.0,49.28 L484.0,50.54 L485.0,51.92 L486.0,53.42 L487.0,55.02 L488.0,56.74 L489.0,58.56 L490.0,60.48 L491.0,62.49 L492.0,64.60 L493.0,66.79 L494.0,69.07 L495.0,71.43 L496.0,73.87 L497.0,76.37 L498.0,78.95 L499.0,81.59 L500.0,84.28 L501.0,87.03 L502.0,89.83 L503.0,92.68 L504.0,95.58 L505.0,98.51 L506.0,101.48 L507.0,104.48 L508.0,107.51 L509.0,110.57 L510.0,113.65 L511.0,116.75 L512.0,119.86 L513.0,122.99 L514.0,126.13 L515.0,129.28 L516.0,132.44 L517.0,135.59 L518.0,138.75 L519.0,141.91 L520.0,145.07 L521.0,148.22 L522.0,151.36 L523.0,154.49 L524.0,157.62 L525.0,160.73 L526.0,163.83 L527.0,166.91 L528.0,169.98 L529.0,173.03 L530.0,176.06 L531.0,179.07 L532.0,182.06 L533.0,185.03 L534.0,187.98 L535.0,190.90 L536.0,193.80 L537.0,196.68 L538.0,199.53 L539.0,202.36 L540.0,205.16 L541.0,207.93 L542.0,210.68 L543.0,213.40 L544.0,216.09 L545.0,218.75 L546.0,221.39 L547.0,224.00 L548.0,226.58 L549.0,229.14 L550.0,231.66 L551.0,234.16 L552.0,236.63 L553.0,239.07 L554.0,241.48 L555.0,243.87 L556.0,246.22 L557.0,248.55 L558.0,250.85 L559.0,253.13 L560.0,255.37 L561.0,257.59 L562.0,259.78 L563.0,261.95 L564.0,264.09 L565.0,266.20 L566.0,268.28 L567.0,270.34 L568.0,272.38 L569.0,274.39 L570.0,276.37 L571.0,278.33 L572.0,280.26 L573.0,282.17 L574.0,284.06 L575.0,285.92 L576.0,287.75 L577.0,289.57 L578.0,291.36 L579.0,293.13 L580.0,294.87 L581.0,296.59 L582.0,298.30 L583.0,299.97 L584.0,301.63 L585.0,303.27 L586.0,304.89 L587.0,306.48 L588.0,308.06 L589.0,309.61 L590.0,311.15 L591.0,312.66 L592.0,314.16 L593.0,315.64 L594.0,317.09 L595.0,318.53 L596.0,319.96 L597.0,321.36 L598.0,322.75 L599.0,324.12 L600.0,325.47 L601.0,326.80 L602.0,328.12 L603.0,329.42 L604.0,330.71 L605.0,331.98 L606.0,333.23 L607.0,334.47 L608.0,335.70 L609.0,336.91 L610.0,338.10 L611.0,339.28 L612.0,340.44 L613.0,341.59 L614.0,342.73 L615.0,343.85 L616.0,344.96 L617.0,346.06 L618.0,347.14 L619.0,348.21 L620.0,349.27 L621.0,350.31 L622.0,351.34 L623.0,352.36 L624.0,353.37 L625.0,354.37 L626.0,355.35 L627.0,356.32 L628.0,357.29 L629.0,358.24 L630.0,359.18 L631.0,360.10 L632.0,361.02 L633.0,361.93 L634.0,362.83 L635.0,363.71 L636.0,364.59 L637.0,365.46 L638.0,366.31 L639.0,367.16 L640.0,368.00 L641.0,368.83 L642.0,369.65 L643.0,370.46 L644.0,371.26 L645.0,372.05 L646.0,372.83 L647.0,373.61 L648.0,374.37 L649.0,375.13 L650.0,375.88 L651.0,376.62 L652.0,377.36 L653.0,378.08 L654.0,378.80 L655.0,379.51 L656.0,380.21 L657.0,380.91 L658.0,381.60 L659.0,382.28 L660.0,382.95 L661.0,383.62 L662.0,384.28 L663.0,384.93 L664.0,385.58 L665.0,386.22 L666.0,386.85 L667.0,387.48 L668.0,388.10 L669.0,388.71 L670.0,389.32 L671.0,389.92 L672.0,390.52 L673.0,391.11 L674.0,391.69 L675.0,392.27 L676.0,392.84 L677.0,393.41 L678.0,393.97 L679.0,394.52 L680.0,395.07 L681.0,395.62 L682.0,396.16" stroke="#c80c16" stroke-width="2.3" stroke-linecap="butt" style="mix-blend-mode:multiply"/>
</g>
<!-- data points -->
<g>
<g stroke="#1e2040" stroke-width="1.8">
<line x1="291.1" y1="425.2" x2="291.1" y2="439.6"/>
<line x1="357.8" y1="365.5" x2="357.8" y2="369.8"/>
<line x1="407.9" y1="250.1" x2="407.9" y2="268.5"/>
<line x1="471.4" y1="98.5" x2="471.4" y2="102.9"/>
<line x1="523.8" y1="178" x2="523.8" y2="201.8"/>
<line x1="584.3" y1="311.9" x2="584.3" y2="315.9"/>
<line x1="642.9" y1="371.4" x2="642.9" y2="383.6"/>
<line x1="91.9" y1="274.6" x2="91.9" y2="292.7"/>
</g>
<g fill="url(#dot)">
<circle cx="291.1" cy="431.9" r="4.0"/>
<circle cx="357.8" cy="367.5" r="4.0"/>
<circle cx="408.3" cy="261.1" r="4.0"/>
<circle cx="471.9" cy="101.6" r="4.1"/>
<circle cx="523.8" cy="191" r="4.1"/>
<circle cx="584.3" cy="314.1" r="4.1"/>
<circle cx="642.9" cy="377.5" r="4.0"/>
<circle cx="92.6" cy="283.4" r="4"/>
</g>
<g stroke="#1e2040" stroke-width="1.8">
<line x1="291.1" y1="429" x2="291.1" y2="435"/>
<line x1="357.8" y1="365.5" x2="357.8" y2="369.8"/>
<line x1="407.9" y1="257" x2="407.9" y2="265"/>
<line x1="471.4" y1="98.5" x2="471.4" y2="102.9"/>
<line x1="523.8" y1="187" x2="523.8" y2="195"/>
<line x1="584.3" y1="311.9" x2="584.3" y2="315.9"/>
<line x1="642.9" y1="374" x2="642.9" y2="381"/>
<line x1="91.9" y1="280" x2="91.9" y2="287"/>
</g>
</g>
<ellipse cx="374.4" cy="34.1" rx="4.6" ry="3.6" fill="#0a0a0a"/>
<circle cx="40.3" cy="469.6" r="1.4" fill="#333"/>
<ellipse cx="517" cy="552.5" rx="1.6" ry="1.1" fill="#777" opacity="0.8"/>
<circle cx="590" cy="459.5" r="0.9" fill="#555" opacity="0.8"/>
<g class="tx">
<text class="md" transform="translate(18.80 300.50) rotate(-90) scale(0.9500 1)" font-size="23.50">σ</text>
<text class="md" transform="translate(24.00 287.00) rotate(-90) scale(0.9000 1)" font-size="15.30">had</text>
<text class="md" transform="translate(16.76 256.98) rotate(-90) scale(0.8822 1)" font-size="21.61">(nb)</text>
<text transform="translate(126.34 48.75) scale(0.8349 1)" font-size="24.40">ALEPH</text>
<text transform="translate(125.55 79.15) scale(0.8657 1)" font-size="24.40">DELPHI</text>
<text transform="translate(125.18 110.40) scale(0.9436 1)" font-size="24.40">L3</text>
<text transform="translate(126.41 141.80) scale(0.8612 1)" font-size="24.40">OPAL</text>
<text class="nu" transform="translate(463.38 39.00) scale(0.9634 1)" font-size="22.50">2<tspan font-family="Liberation Serif" font-size="1.12em" dx="0.5">ν</tspan></text>
<text class="nu" transform="translate(463.41 89.53) scale(0.9901 1)" font-size="22.50">3<tspan font-family="Liberation Serif" font-size="1.12em" dx="0.5">ν</tspan></text>
<text class="nu" transform="translate(464.68 140.50) scale(0.9183 1)" font-size="22.50">4<tspan font-family="Liberation Serif" font-size="1.12em" dx="0.5">ν</tspan></text>
<text class="lt" transform="translate(29.78 118.89) scale(0.9317 1)" font-size="23.20">30</text>
<text class="lt" transform="translate(30.03 246.24) scale(0.9362 1)" font-size="23.20">20</text>
<text class="lt" transform="translate(31.65 376.40) scale(0.8696 1)" font-size="23.20">10</text>
<text class="lt" transform="translate(43.94 510.17) scale(1.1197 1)" font-size="23.20">0</text>
<text class="lt" transform="translate(126.61 532.14) scale(0.9727 1)" font-size="22.60">86</text>
<text class="lt" transform="translate(254.12 532.14) scale(0.9151 1)" font-size="22.60">88</text>
<text class="lt" transform="translate(382.99 532.07) scale(0.9470 1)" font-size="22.60">90</text>
<text class="lt" transform="translate(511.03 531.16) scale(0.9261 1)" font-size="22.60">92</text>
<text class="lt" transform="translate(636.92 530.65) scale(0.9658 1)" font-size="22.60">94</text>
<text class="md" transform="translate(104.30 290.30) scale(0.9247 1)" font-size="20.00">average measurements,</text>
<text class="md" transform="translate(105.04 315.40) scale(0.9236 1)" font-size="20.00">error bars increased</text>
<text class="md" transform="translate(104.47 339.80) scale(0.9726 1)" font-size="20.00">by a factor of 10</text>
<text class="md" transform="translate(346.90 563.60) scale(0.7400 1)" font-size="19.30">E</text>
<text class="md" transform="translate(355.60 570.00) scale(0.8600 1)" font-size="17.60">cm</text>
<text class="md" transform="translate(379.87 564.58) scale(0.8742 1)" font-size="20.87">(GeV)</text>
</g>
</g>
</svg>
</body></html>
